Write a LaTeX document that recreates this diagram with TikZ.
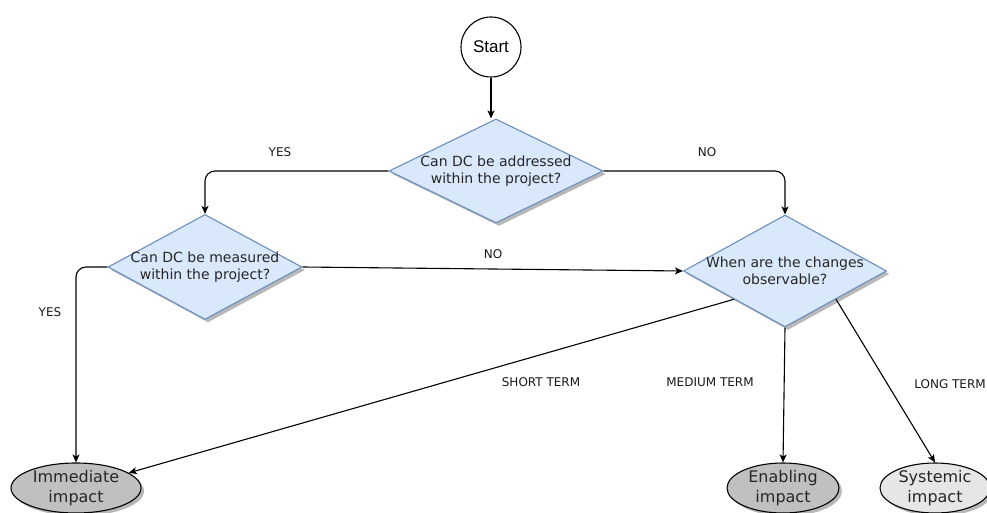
\documentclass[tikz,border=0pt]{standalone}
\usepackage{fontspec}
\setmainfont{DejaVu Sans}
\newfontfamily\lblfont{Liberation Sans}
\usetikzlibrary{shapes.geometric,arrows.meta,shadows}
\definecolor{dfill}{HTML}{DAE8FC}
\definecolor{ddraw}{HTML}{6C8EBF}
\definecolor{efill}{HTML}{C0C0C0}
\definecolor{lfill}{HTML}{E6E6E6}
\begin{document}
\begin{tikzpicture}[x=1pt,y=-1pt,
  shd/.style={drop shadow={shadow xshift=3pt,shadow yshift=-3pt,fill=black!28,opacity=1}},
  dia/.style={diamond,draw=ddraw,fill=dfill,line width=1.1pt,inner sep=0pt,shd},
  dtext/.style={align=center,font=\fontsize{14}{16.5}\selectfont,text=black!85},
  oval/.style={ellipse,draw=black,line width=1.1pt,inner sep=0pt,shd},
  otext/.style={align=center,font=\fontsize{16}{20}\selectfont,text=black!85},
  lbl/.style={font=\fontsize{12}{14}\selectfont,text=black!90},
  conn/.style={draw=black,line width=1.1pt,-{Stealth[length=8pt,width=7pt,inset=2pt]}},
]
\useasboundingbox (0,0) rectangle (987,513);
\node[circle,draw,line width=1.1pt,minimum size=60pt,inner sep=0pt,font=\lblfont\fontsize{17}{19}\selectfont] (start) at (491,47) {Start};

\node[dia,minimum width=214pt,minimum height=104pt] (d1) at (496,171) {};
\node[dtext] (t1) at (d1) {Can DC be addressed\\within the project?};
\node[dia,minimum width=194pt,minimum height=105pt] (d2) at (205,267) {};
\node[dtext] (t2) at (d2) {Can DC be measured\\within the project?};
\node[dia,minimum width=203pt,minimum height=112pt] (d3) at (785,271) {};
\node[dtext] (t3) at (d3) {When are the changes\\observable?};

\node[oval,fill=efill,minimum width=130pt,minimum height=50pt] (e1) at (76,488) {};
\node[otext] (te1) at (e1) {Immediate\\impact};
\node[oval,fill=efill,minimum width=112pt,minimum height=50pt] (e2) at (783,488) {};
\node[otext] (te2) at (e2) {Enabling\\impact};
\node[oval,fill=lfill,minimum width=110pt,minimum height=50pt] (e3) at (935,488) {};
\node[otext] (te3) at (e3) {Systemic\\impact};

\draw[conn] (start) -- (start |- d1.north);
\draw[conn,rounded corners=10pt] (d1.west) -| (d2.north);
\draw[conn,rounded corners=10pt] (d1.east) -| (d3.north);
\draw[conn] (d2.east) -- (d3.west);
\draw[conn,rounded corners=10pt] (d2.west) -| (e1.north);
\draw[conn] (d3.south west) -- (e1);
\draw[conn] (d3.south) -- (e2.north);
\draw[conn] (d3.south east) -- (e3.north);

\node[lbl] (l1) at (280,152) {YES};
\node[lbl] (l2) at (707,152) {NO};
\node[lbl] (l3) at (493,254) {NO};
\node[lbl] (l4) at (50,312) {YES};
\node[lbl] (l5) at (541,382) {SHORT TERM};
\node[lbl] (l6) at (710,382) {MEDIUM TERM};
\node[lbl] (l7) at (950,384) {LONG TERM};
\end{tikzpicture}
\end{document}
